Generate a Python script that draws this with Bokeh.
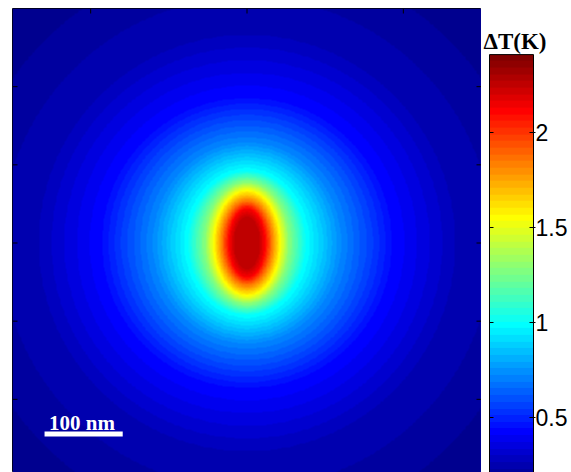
import numpy as np
from bokeh.plotting import figure
from bokeh.layouts import row
from bokeh.models import LinearColorMapper
from bokeh.core.properties import value
from bokeh.embed import file_html
from bokeh.resources import INLINE

# ---- values ----
# temperature rise (K) of each contour and the semi-axes (nm) of that contour
levels_K = [2.245, 2.12, 1.84, 1.56, 1.28, 1.00, 0.72, 0.44, 0.265, 0.23, 0.195, 0.169]
semi_x_nm = [16, 23, 32, 42, 54, 75, 121, 186, 267, 315, 367, 424]
semi_y_nm = [33, 44, 54, 67, 78, 92, 129, 186, 267, 315, 367, 424]
x_extent_nm = [-300, 300]
y_extent_nm = [-300, 300]
x_ticks = [-200, 0, 200]
y_ticks = [-200, -100, 0, 100, 200]
cbar_ticks = [0.5, 1, 1.5, 2]
cbar_labels = ["0.5", "1", "1.5", "2"]
t_range_K = [0.16, 2.41]
scalebar_nm = 100
scalebar_label = "100 nm"
cbar_title = "ΔT(K)"

# ---- MATLAB jet(64) ----
def matlab_jet(m):
    n = int(np.ceil(m / 4))
    u = np.concatenate([np.arange(1, n + 1) / n, np.ones(n - 1), np.arange(n, 0, -1) / n])
    g = int(np.ceil(n / 2)) - (1 if m % 4 == 1 else 0) + np.arange(1, len(u) + 1)
    r = g + n
    b = g - n
    J = np.zeros((m, 3))
    J[r[r <= m] - 1, 0] = u[r <= m]
    J[g[g <= m] - 1, 1] = u[g <= m]
    J[b[b >= 1] - 1, 2] = u[b >= 1]
    return ["#%02x%02x%02x" % tuple(int(round(255 * c)) for c in row_) for row_ in J]

jet64 = matlab_jet(64)

# ---- field built from the read contours ----
npx = 601
xs = np.linspace(x_extent_nm[0], x_extent_nm[1], npx)
ys = np.linspace(y_extent_nm[0], y_extent_nm[1], npx)
X, Y = np.meshgrid(xs, ys)
rr = np.hypot(X, Y)
th = np.arctan2(Y, X)
c2 = np.cos(th) ** 2
s2 = np.sin(th) ** 2
axs = np.array(semi_x_nm, dtype=float)[:, None, None]
ays = np.array(semi_y_nm, dtype=float)[:, None, None]
R = 1.0 / np.sqrt(c2 / axs ** 2 + s2 / ays ** 2)
lv = np.array(levels_K)
K = len(lv)
j = (R < rr).sum(axis=0)
jj = np.clip(j, 1, K - 1)
R0 = np.take_along_axis(R, (jj - 1)[None], 0)[0]
R1 = np.take_along_axis(R, jj[None], 0)[0]
f = np.clip((rr - R0) / (R1 - R0), 0, 1)
field = lv[jj - 1] + f * (lv[jj] - lv[jj - 1])
field[j == 0] = lv[0]

mapper = LinearColorMapper(palette=jet64, low=t_range_K[0], high=t_range_K[1])

# ---- main map ----
TOP, LEFT = 8, 12
FW, FH = 469, 464
px_per_nm = FW / (x_extent_nm[1] - x_extent_nm[0])
y_bottom = y_extent_nm[1] - FH / px_per_nm
tick_nm = 5 / px_per_nm

p = figure(frame_width=FW, frame_height=FH,
           x_range=(x_extent_nm[0], x_extent_nm[1]), y_range=(y_bottom, y_extent_nm[1]),
           output_backend="svg", toolbar_location=None,
           x_axis_location=None, y_axis_location=None,
           min_border_left=LEFT, min_border_right=0, min_border_top=TOP, min_border_bottom=0,
           outline_line_color="black", outline_line_width=1,
           background_fill_color="white", border_fill_color="white")
p.xgrid.visible = False
p.ygrid.visible = False

p.image(image=[field], x=x_extent_nm[0], y=y_extent_nm[0],
        dw=x_extent_nm[1] - x_extent_nm[0], dh=y_extent_nm[1] - y_extent_nm[0],
        color_mapper=mapper)

# inward ticks on top, left and right edges
top = y_extent_nm[1]
p.segment(x0=x_ticks, y0=[top] * len(x_ticks), x1=x_ticks, y1=[top - tick_nm] * len(x_ticks),
          line_color="black", line_width=1)
p.segment(x0=[x_extent_nm[0]] * len(y_ticks), y0=y_ticks,
          x1=[x_extent_nm[0] + tick_nm] * len(y_ticks), y1=y_ticks, line_color="black", line_width=1)
p.segment(x0=[x_extent_nm[1]] * len(y_ticks), y0=y_ticks,
          x1=[x_extent_nm[1] - tick_nm] * len(y_ticks), y1=y_ticks, line_color="black", line_width=1)

# scale bar
sb_x0 = -259
sb_y = -244.5
p.segment(x0=[sb_x0], y0=[sb_y], x1=[sb_x0 + scalebar_nm], y1=[sb_y],
          line_color="white", line_width=5, line_cap="butt")
p.text(x=[sb_x0 + scalebar_nm / 2 - 2], y=[sb_y + 13.6], text=[scalebar_label],
       text_align="center", text_baseline="alphabetic",
       text_font=value("Liberation Serif"), text_font_style="bold",
       text_font_size="21px", text_color="white")

# ---- colour bar as its own small plot (x in px, y in K) ----
CBW = 90
px_per_K = 190.0
K_at_417 = 0.5           # 0.5 K sits 417 px below the page top
cb_top = K_at_417 + (417 - TOP) / px_per_K
cb_bot = K_at_417 - (TOP + FH - 417) / px_per_K
bar_l, bar_r = 8, 52

cbp = figure(frame_width=CBW, frame_height=FH, x_range=(0, CBW), y_range=(cb_bot, cb_top),
             output_backend="svg", toolbar_location=None,
             x_axis_location=None, y_axis_location=None,
             min_border_left=0, min_border_right=0, min_border_top=TOP, min_border_bottom=0,
             outline_line_color=None,
             background_fill_color="white", border_fill_color="white")
cbp.xgrid.visible = False
cbp.ygrid.visible = False

bar_vals = np.linspace(t_range_K[0], t_range_K[1], 2251)[:, None]
cbp.image(image=[bar_vals], x=bar_l, y=t_range_K[0], dw=bar_r - bar_l,
          dh=t_range_K[1] - t_range_K[0], color_mapper=mapper)
cbp.quad(left=[bar_l], right=[bar_r], bottom=[t_range_K[0]], top=[t_range_K[1]],
         fill_color=None, line_color="black", line_width=1)
nt = len(cbar_ticks)
cbp.segment(x0=[bar_l] * nt, y0=cbar_ticks, x1=[bar_l + 4] * nt, y1=cbar_ticks,
            line_color="black", line_width=1)
cbp.segment(x0=[bar_r - 4] * nt, y0=cbar_ticks, x1=[bar_r + 2] * nt, y1=cbar_ticks,
            line_color="black", line_width=1)
cbp.text(x=[bar_r + 2] * nt, y=cbar_ticks, text=cbar_labels,
         text_align="left", text_baseline="middle",
         text_font=value("Liberation Sans"), text_font_size="23px", text_color="black")
cbp.text(x=[2], y=[t_range_K[1] + 13 / px_per_K], text=[cbar_title],
         text_align="left", text_baseline="alphabetic",
         text_font=value("Liberation Serif"), text_font_style="bold",
         text_font_size="23px", text_color="black")

layout = row(p, cbp, spacing=0)
open("out.html", "w").write(file_html(layout, INLINE))
